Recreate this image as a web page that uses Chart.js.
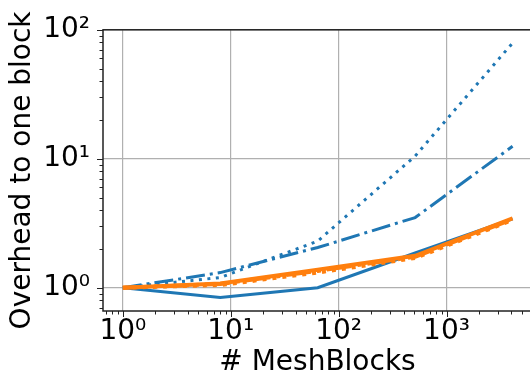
<!DOCTYPE html>
<html>
<head>
<meta charset="utf-8">
<script src="https://cdn.jsdelivr.net/npm/chart.js@4"></script>
<style>
  html, body { margin: 0; padding: 0; overflow: hidden; background: #fff; }
  #wrap { width: 540px; height: 376px; }
</style>
</head>
<body>
<div id="wrap"><canvas id="canvas" width="540" height="376"></canvas></div>
<script>
// data
var meshBlocks = [1, 8, 64, 512, 4096];

var blueSolid   = [1.0, 0.84, 1.0, 1.86, 3.42];
var blueDotted  = [1.0, 1.2, 2.3, 10.5, 79];
var blueDashDot = [1.0, 1.31, 2.05, 3.5, 12.5];

var orangeSolid   = [1.0, 1.08, 1.38, 1.77, 3.45];
var orangeDotted  = [1.0, 1.05, 1.31, 1.70, 3.35];
var orangeDashDot = [1.0, 1.07, 1.35, 1.74, 3.40];

var xTickLabels = ['10⁰', '10¹', '10²', '10³'];
var yTickLabels = ['10⁰', '10¹', '10²'];

var BLUE = '#1f77b4';
var ORANGE = '#ff7f0e';
var FONT = 'DejaVu Sans';

function points(vals) {
   return meshBlocks.map(function (x, i) { return {x: x, y: vals[i]}; });
}

// decade + minor ticks for a log axis
function logTicks(min, max) {
   var t = [];
   for (var e = Math.floor(Math.log10(min)); e <= Math.ceil(Math.log10(max)); e++) {
      for (var m = 1; m < 10; m++) {
         var v = m * Math.pow(10, e);
         if (v >= min * 0.9999 && v <= max * 1.0001) t.push({value: v, major: m === 1, exp: e});
      }
   }
   return t;
}

function lineSet(vals, color, width, dash, order) {
   return {
      data: points(vals),
      borderColor: color,
      borderWidth: width,
      borderDash: dash,
      borderCapStyle: 'butt',
      pointRadius: 0,
      tension: 0,
      fill: false,
      order: order
   };
}

// frame + outward tick marks like matplotlib
var axesFrame = {
   id: 'axesFrame',
   afterDraw: function (chart) {
      var ctx = chart.ctx, a = chart.chartArea;
      var xs = chart.scales.x, ys = chart.scales.y;
      ctx.save();
      ctx.strokeStyle = '#222';
      ctx.lineWidth = 1;
      xs.ticks.forEach(function (t) {
         var px = Math.round(xs.getPixelForValue(t.value)) + 0.5;
         var len = t.major ? 6 : 3.5;
         ctx.beginPath();
         ctx.moveTo(px, a.bottom);
         ctx.lineTo(px, a.bottom + len);
         ctx.stroke();
      });
      ys.ticks.forEach(function (t) {
         var py = Math.round(ys.getPixelForValue(t.value)) + 0.5;
         var len = t.major ? 6 : 3.5;
         ctx.beginPath();
         ctx.moveTo(a.left, py);
         ctx.lineTo(a.left - len, py);
         ctx.stroke();
      });
      ctx.lineWidth = 1.5;
      ctx.strokeRect(a.left, a.top, a.right - a.left, a.bottom - a.top);
      ctx.restore();
   }
};

window.onload = function () {
   var ctx = document.getElementById('canvas').getContext('2d');
   window.myChart = new Chart(ctx, {
      type: 'line',
      data: {
         datasets: [
            lineSet(blueSolid, BLUE, 3, [], 6),
            lineSet(blueDotted, BLUE, 3, [3, 5.5], 5),
            lineSet(blueDashDot, BLUE, 3, [19, 5, 3, 5], 4),
            lineSet(orangeSolid, ORANGE, 4, [], 3),
            lineSet(orangeDotted, ORANGE, 4, [4, 6], 2),
            lineSet(orangeDashDot, ORANGE, 4, [25, 6, 4, 6], 1)
         ]
      },
      options: {
         responsive: false,
         animation: false,
         devicePixelRatio: 1,
         layout: { padding: { top: 29, right: 8, left: 0, bottom: 0 } },
         plugins: {
            legend: { display: false },
            tooltip: { enabled: false }
         },
         scales: {
            x: {
               type: 'logarithmic',
               min: 0.655,
               max: 6200,
               bounds: 'data',
               afterBuildTicks: function (s) { s.ticks = logTicks(0.655, 6200); },
               afterFit: function (s) { s.height = 65; },
               ticks: {
                  autoSkip: false,
                  maxRotation: 0,
                  minRotation: 0,
                  padding: 4,
                  color: '#000',
                  font: { family: FONT, size: 28 },
                  callback: function (v, i, ticks) {
                     return ticks[i].major ? xTickLabels[ticks[i].exp] : '';
                  }
               },
               grid: {
                  drawTicks: false,
                  lineWidth: 1.2,
                  color: function (c) { return c.tick && c.tick.major ? '#b0b0b0' : 'rgba(0,0,0,0)'; }
               },
               border: { display: false },
               title: {
                  display: true,
                  text: '# MeshBlocks',
                  color: '#000',
                  font: { family: FONT, size: 28 },
                  padding: { top: 0, bottom: -4 }
               }
            },
            y: {
               type: 'logarithmic',
               min: 0.66,
               max: 100,
               bounds: 'data',
               afterBuildTicks: function (s) { s.ticks = logTicks(0.66, 100); },
               afterFit: function (s) { s.width = 103; },
               ticks: {
                  autoSkip: false,
                  padding: 13,
                  color: '#000',
                  font: { family: FONT, size: 28 },
                  callback: function (v, i, ticks) {
                     return ticks[i].major ? yTickLabels[ticks[i].exp] : '';
                  }
               },
               grid: {
                  drawTicks: false,
                  lineWidth: 1.2,
                  color: function (c) { return c.tick && c.tick.major ? '#b0b0b0' : 'rgba(0,0,0,0)'; }
               },
               border: { display: false },
               title: {
                  display: true,
                  text: 'Overhead to one block',
                  color: '#000',
                  font: { family: FONT, size: 28 },
                  padding: { top: 6, bottom: 0 }
               }
            }
         }
      },
      plugins: [axesFrame]
   });
};
</script>
</body>
</html>
